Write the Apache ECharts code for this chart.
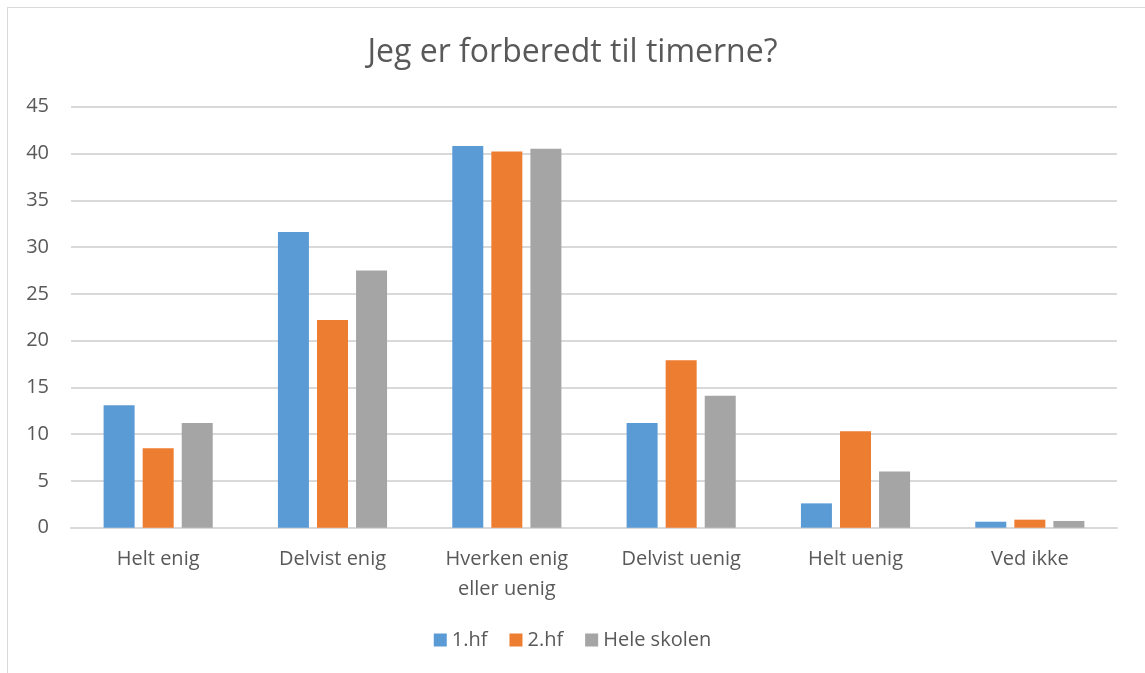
<!DOCTYPE html>
<html>
<head>
<meta charset="utf-8">
<script src="https://cdn.jsdelivr.net/npm/echarts@6/dist/echarts.min.js"></script>
<style>
  html, body { margin: 0; padding: 0; background: #fff; }
  #frame { position: absolute; left: 7px; top: 7px; width: 1160px; height: 700px; border: 1px solid #d9d9d9; box-sizing: border-box; }
  #main-chart { position: absolute; left: 0; top: 0; width: 1145px; height: 673px; }
</style>
</head>
<body>
<div id="frame"></div>
<div id="main-chart"></div>
<script>
const categories = ['Helt enig', 'Delvist enig', 'Hverken enig\neller uenig', 'Delvist uenig', 'Helt uenig', 'Ved ikke']
const seriesNames = ['1.hf', '2.hf', 'Hele skolen']
const values1hf = [13.1, 31.6, 40.8, 11.2, 2.6, 0.64]
const values2hf = [8.5, 22.2, 40.2, 17.9, 10.3, 0.86]
const valuesSkole = [11.2, 27.5, 40.5, 14.1, 6.0, 0.72]
const colors = ['#5b9bd5', '#ed7d31', '#a5a5a5']

const FONT = 'Open Sans'
const TEXT_COLOR = '#595959'

const chart = echarts.init(document.getElementById('main-chart'))
const seriesData = [values1hf, values2hf, valuesSkole]

chart.setOption({
  animation: false,
  color: colors,
  title: {
    text: 'Jeg er forberedt til timerne?',
    left: 'center',
    top: 32,
    textStyle: { fontFamily: FONT, fontSize: 32, fontWeight: 'normal', color: TEXT_COLOR }
  },
  legend: {
    bottom: 18,
    left: 'center',
    itemWidth: 13,
    itemHeight: 13,
    itemGap: 22,
    itemStyle: { borderWidth: 0 },
    icon: 'rect',
    textStyle: { fontFamily: FONT, fontSize: 20, color: TEXT_COLOR }
  },
  grid: { left: 71, right: 28, top: 106.7, bottom: 145.3 },
  xAxis: {
    type: 'category',
    data: categories,
    axisLine: { lineStyle: { color: '#d9d9d9', width: 2 } },
    axisTick: { show: false },
    axisLabel: { fontFamily: FONT, fontSize: 20, color: TEXT_COLOR, margin: 17, lineHeight: 30 }
  },
  yAxis: {
    type: 'value',
    min: 0,
    max: 45,
    interval: 5,
    axisLine: { show: false },
    axisTick: { show: false },
    splitLine: { lineStyle: { color: '#d9d9d9', width: 2 } },
    axisLabel: { fontFamily: FONT, fontSize: 20, color: TEXT_COLOR, margin: 22 }
  },
  series: seriesNames.map((name, i) => ({
    name,
    type: 'bar',
    data: seriesData[i],
    barWidth: 31,
    barGap: '26%',
    itemStyle: { color: colors[i] }
  }))
})
</script>
</body>
</html>
